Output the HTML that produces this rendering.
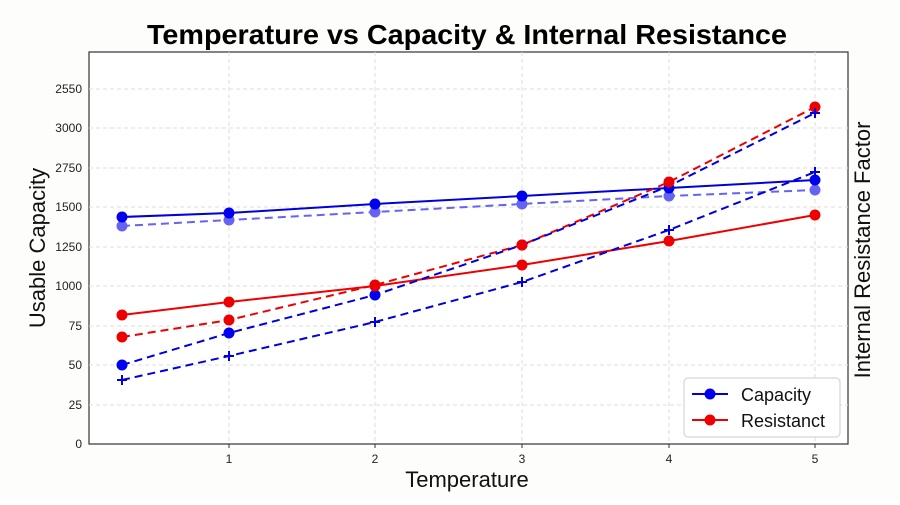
<!DOCTYPE html>
<html><head><style>body{margin:0;background:#fff}</style></head><body>
<svg width="900" height="500" xmlns="http://www.w3.org/2000/svg" font-family="Liberation Sans, DejaVu Sans, sans-serif">
<rect width="900" height="500" fill="#fdfdfb"/>
<rect x="89" y="52" width="759" height="392" fill="#fff" stroke="#333" stroke-width="1.2"/>
<g stroke="#ddd" stroke-dasharray="4,3" stroke-width="1">
<line x1="229" y1="52" x2="229" y2="444"/><line x1="375" y1="52" x2="375" y2="444"/><line x1="522" y1="52" x2="522" y2="444"/><line x1="669" y1="52" x2="669" y2="444"/><line x1="815" y1="52" x2="815" y2="444"/>
<line x1="89" y1="405" x2="848" y2="405"/><line x1="89" y1="365" x2="848" y2="365"/><line x1="89" y1="326" x2="848" y2="326"/><line x1="89" y1="286" x2="848" y2="286"/><line x1="89" y1="247" x2="848" y2="247"/><line x1="89" y1="207" x2="848" y2="207"/><line x1="89" y1="168" x2="848" y2="168"/><line x1="89" y1="128" x2="848" y2="128"/><line x1="89" y1="89" x2="848" y2="89"/>
</g>
<g font-size="12" fill="#222" text-anchor="end">
<text x="82" y="448">0</text><text x="82" y="409">25</text><text x="82" y="369">50</text><text x="82" y="330">75</text><text x="82" y="290">1000</text><text x="82" y="251">1250</text><text x="82" y="211">1500</text><text x="82" y="172">2750</text><text x="82" y="132">3000</text><text x="82" y="93">2550</text>
</g>
<g font-size="12" fill="#222" text-anchor="middle">
<text x="229" y="463">1</text><text x="375" y="463">2</text><text x="522" y="463">3</text><text x="669" y="463">4</text><text x="815" y="463">5</text>
</g>
<g stroke="#333"><line x1="229" y1="444" x2="229" y2="448"/><line x1="375" y1="444" x2="375" y2="448"/><line x1="522" y1="444" x2="522" y2="448"/><line x1="669" y1="444" x2="669" y2="448"/><line x1="815" y1="444" x2="815" y2="448"/></g>
<text x="467" y="44" font-size="28" font-weight="bold" text-anchor="middle" fill="#000" textLength="640" lengthAdjust="spacingAndGlyphs">Temperature vs Capacity &amp; Internal Resistance</text>
<text x="467" y="487" font-size="22" text-anchor="middle" fill="#111">Temperature</text>
<text transform="translate(45,248) rotate(-90)" font-size="22" text-anchor="middle" fill="#111">Usable Capacity</text>
<text transform="translate(870,250) rotate(-90)" font-size="22" text-anchor="middle" fill="#111">Internal Resistance Factor</text>
<g fill="none" stroke-width="2">
<polyline stroke="#6464f0" stroke-dasharray="8,5" points="122,226 229,220 375,212 522,204 669,196 815,190"/>
<polyline stroke="#0000dd" points="122,217 229,213 375,204 522,196 669,188 815,180"/>
<polyline stroke="#ee0000" points="122,315 229,302 375,286 522,265 669,241 815,215"/>
<polyline stroke="#ee0000" stroke-dasharray="8,5" points="122,337 229,320 375,285 522,245 669,182 815,107"/>
<polyline stroke="#0000dd" stroke-dasharray="8,5" points="122,365 229,333 375,295 522,245 669,186 815,113"/>
<polyline stroke="#0000dd" stroke-dasharray="8,5" points="122,380 229,356 375,322 522,282 669,230 815,172"/>
</g>
<g fill="#6464f0"><circle cx="122" cy="226" r="5.5"/><circle cx="229" cy="220" r="5.5"/><circle cx="375" cy="212" r="5.5"/><circle cx="522" cy="204" r="5.5"/><circle cx="669" cy="196" r="5.5"/><circle cx="815" cy="190" r="5.5"/></g>
<g fill="#0000ee"><circle cx="122" cy="217" r="5.5"/><circle cx="229" cy="213" r="5.5"/><circle cx="375" cy="204" r="5.5"/><circle cx="522" cy="196" r="5.5"/><circle cx="669" cy="188" r="5.5"/><circle cx="815" cy="180" r="5.5"/>
<circle cx="122" cy="365" r="5.5"/><circle cx="229" cy="333" r="5.5"/><circle cx="375" cy="295" r="5.5"/><circle cx="522" cy="245" r="5.5"/></g>
<g fill="#ee0000"><circle cx="122" cy="315" r="5.5"/><circle cx="229" cy="302" r="5.5"/><circle cx="375" cy="286" r="5.5"/><circle cx="522" cy="265" r="5.5"/><circle cx="669" cy="241" r="5.5"/><circle cx="815" cy="215" r="5.5"/>
<circle cx="122" cy="337" r="5.5"/><circle cx="229" cy="320" r="5.5"/><circle cx="375" cy="285" r="5.5"/><circle cx="522" cy="245" r="5.5"/><circle cx="669" cy="182" r="5.5"/><circle cx="815" cy="107" r="5.5"/></g>
<g stroke="#0000dd" stroke-width="2">
<path d="M117,380h10M122,375v10M224,356h10M229,351v10M370,322h10M375,317v10M517,282h10M522,277v10M664,230h10M669,225v10M810,172h10M815,167v10M810,113h10M815,108v10"/>
</g>
<rect x="684" y="378" width="156" height="59" rx="4" fill="#fff" stroke="#ccc"/>
<line x1="692" y1="394" x2="728" y2="394" stroke="#0000dd" stroke-width="2"/><circle cx="710" cy="394" r="5.5" fill="#0000ee"/>
<line x1="692" y1="420" x2="728" y2="420" stroke="#ee0000" stroke-width="2"/><circle cx="710" cy="420" r="5.5" fill="#ee0000"/>
<text x="741" y="401" font-size="18" fill="#111">Capacity</text>
<text x="741" y="427" font-size="18" fill="#111">Resistanct</text>
</svg>
</body></html>
